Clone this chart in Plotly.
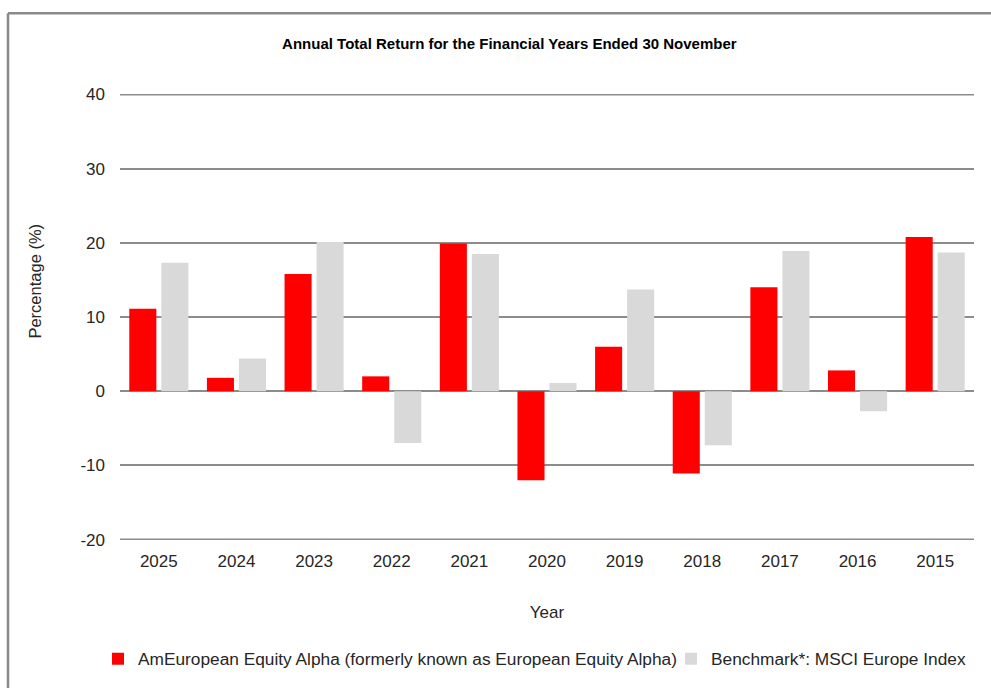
import plotly.graph_objects as go

years = ["2025", "2024", "2023", "2022", "2021", "2020", "2019", "2018", "2017", "2016", "2015"]
fund_returns = [11.1, 1.8, 15.8, 2.0, 19.9, -12.0, 6.0, -11.1, 14.0, 2.8, 20.8]
benchmark_returns = [17.3, 4.4, 20.1, -7.0, 18.5, 1.1, 13.7, -7.3, 18.9, -2.7, 18.7]
y_tick_values = [-20, -10, 0, 10, 20, 30, 40]
y_tick_labels = ["-20", "-10", "0", "10", "20", "30", "40"]
fund_name = "AmEuropean Equity Alpha (formerly known as European Equity Alpha)"
benchmark_name = "Benchmark*: MSCI Europe Index"

L, R, T, B = 120, 17, 94, 147
W, H = 991, 688
pw, ph = W - L - R, H - T - B

def px_x(x):
    return (x - L) / pw

def px_y(y):
    return (H - B - y) / ph

fig = go.Figure()
fig.add_trace(go.Bar(x=years, y=fund_returns, name=fund_name, legend="legend",
                     marker=dict(color="#ff0000", line=dict(width=0))))
fig.add_trace(go.Bar(x=years, y=benchmark_returns, name=benchmark_name, legend="legend2",
                     marker=dict(color="#d9d9d9", line=dict(width=0))))

legend_font = dict(family="Liberation Sans, Arial, sans-serif", size=17.3, color="#262626")

fig.update_layout(
    width=W, height=H,
    margin=dict(l=L, r=R, t=T, b=B),
    paper_bgcolor="white", plot_bgcolor="white",
    barmode="group", bargap=0.175, bargroupgap=0.155,
    font=dict(family="Liberation Sans, Arial, sans-serif", size=17, color="#262626"),
    title=dict(text="<b>Annual Total Return for the Financial Years Ended 30 November</b>",
               x=0.514, xanchor="center", y=1 - 44 / H, yanchor="middle",
               font=dict(family="Liberation Sans Narrow, Liberation Sans, Arial", size=15, color="#000000")),
    xaxis=dict(title=dict(text="Year", standoff=36, font=dict(size=17)),
               showgrid=False, showline=False, ticks="", tickfont=dict(size=17),
               ticklabelstandoff=9),
    yaxis=dict(range=[-20.06, 40.06], tickvals=y_tick_values, ticktext=y_tick_labels,
               showgrid=True, gridcolor="#8c8c8c", gridwidth=2,
               zeroline=True, zerolinecolor="#8c8c8c", zerolinewidth=2,
               showline=False, ticks="", tickfont=dict(size=17), ticklabelstandoff=14),
    legend=dict(orientation="h", x=px_x(98), xanchor="left", y=px_y(659), yanchor="middle",
                font=legend_font, itemwidth=30, bgcolor="rgba(0,0,0,0)"),
    legend2=dict(orientation="h", x=px_x(671), xanchor="left", y=px_y(659), yanchor="middle",
                 font=legend_font, itemwidth=30, bgcolor="rgba(0,0,0,0)"),
    showlegend=True,
)

fig.add_annotation(text="Percentage (%)", textangle=-90, xref="paper", yref="paper",
                   x=px_x(35), y=px_y(282), xanchor="center", yanchor="middle",
                   showarrow=False, font=dict(size=16.5, color="#262626"))

# edge gridlines (top and bottom of the value range), drawn below the bars
for v in (y_tick_values[0], y_tick_values[-1]):
    fig.add_shape(type="line", xref="paper", yref="y", x0=0, x1=1, y0=v, y1=v,
                  line=dict(color="#8c8c8c", width=2), layer="below")

# outer frame (top and left edges)
fig.add_shape(type="line", xref="paper", yref="paper",
              x0=px_x(8), x1=px_x(995), y0=px_y(13), y1=px_y(13),
              line=dict(color="#8a8a8a", width=2.5))
fig.add_shape(type="line", xref="paper", yref="paper",
              x0=px_x(8), x1=px_x(8), y0=px_y(13), y1=px_y(700),
              line=dict(color="#8a8a8a", width=2.5))

fig.write_html("out.html", config={"displayModeBar": False},
               post_script="document.body.style.margin='0';")
